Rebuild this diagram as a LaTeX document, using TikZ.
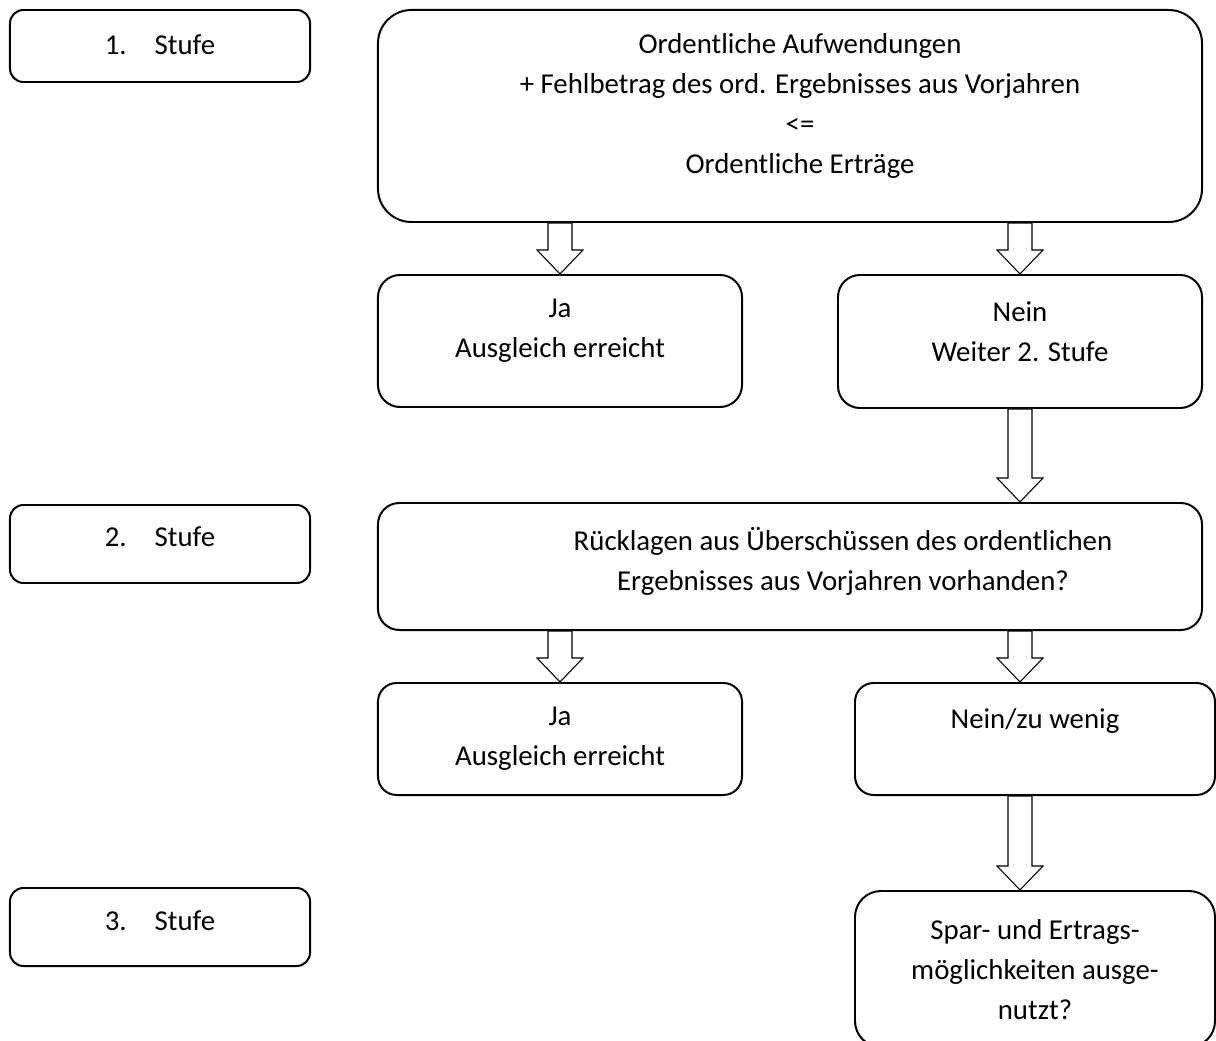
\documentclass[tikz,border=0pt]{standalone}
\usepackage{fontspec}
\setmainfont{Carlito}
\usetikzlibrary{positioning,calc}

\newcommand{\blockpfeil}[2]{%
  \draw[pfeil] let \p1=(#1), \p2=(#2) in
    (\x2-0.18cm,\y1) -- (\x2-0.18cm,\y2+0.36cm) -- (\x2-0.345cm,\y2+0.36cm)
    -- (\x2,\y2) -- (\x2+0.345cm,\y2+0.36cm) -- (\x2+0.18cm,\y2+0.36cm)
    -- (\x2+0.18cm,\y1) -- cycle;}

\begin{document}
\begin{tikzpicture}[x=0.015cm,y=-0.015cm,
  kasten/.style={draw=black,line width=0.85pt,inner sep=0pt},
  txt/.style={align=center,inner sep=0pt,font=\fontsize{12.3}{17.07}\selectfont},
  pfeil/.style={draw=black,fill=white,line width=0.45pt,line join=miter}]
\useasboundingbox (0,0) rectangle (1216,1041);
\node [kasten,rounded corners=0.2cm,minimum width=4.5cm,minimum height=1.08cm] (stufe1) at (160,46) {};
\node [txt] (stufe1t) at (160,45) {1.\hspace{0.42cm}Stufe};
\node [kasten,rounded corners=0.2cm,minimum width=4.5cm,minimum height=1.17cm] (stufe2) at (160,544) {};
\node [txt] (stufe2t) at (160,537) {2.\hspace{0.42cm}Stufe};
\node [kasten,rounded corners=0.2cm,minimum width=4.5cm,minimum height=1.17cm] (stufe3) at (160,927) {};
\node [txt] (stufe3t) at (160,921) {3.\hspace{0.42cm}Stufe};
\node [kasten,rounded corners=0.5cm,minimum width=12.36cm,minimum height=3.18cm] (pruef1) at (790,116) {};
\node [txt] (pruef1t) at (800,106) {Ordentliche Aufwendungen\\+ Fehlbetrag des ord. Ergebnisses aus Vorjahren\\<=\\Ordentliche Erträge};
\node [kasten,rounded corners=0.33cm,minimum width=5.46cm,minimum height=1.98cm] (ja1) at (560,341) {};
\node [txt] (ja1t) at (560,331) {Ja\\Ausgleich erreicht};
\node [kasten,rounded corners=0.33cm,minimum width=5.46cm,minimum height=1.995cm] (nein1) at (1020,341.5) {};
\node [txt] (nein1t) at (1020,332) {Nein\\Weiter 2. Stufe};
\node [kasten,rounded corners=0.32cm,minimum width=12.36cm,minimum height=1.905cm] (pruef2) at (790,566.5) {};
\node [txt] (pruef2t) at (843,561) {Rücklagen aus Überschüssen des ordentlichen\\Ergebnisses aus Vorjahren vorhanden?};
\node [kasten,rounded corners=0.28cm,minimum width=5.46cm,minimum height=1.68cm] (ja2) at (560,739) {};
\node [txt] (ja2t) at (560,739) {Ja\\Ausgleich erreicht};
\node [kasten,rounded corners=0.28cm,minimum width=5.4cm,minimum height=1.68cm] (nein2) at (1035,739) {};
\node [txt] (nein2t) at (1035,721) {Nein/zu wenig};
\node [kasten,rounded corners=0.39cm,minimum width=5.4cm,minimum height=2.34cm] (ende) at (1035,969) {};
\node [txt] (endet) at (1035,970) {Spar- und Ertrags-\\möglichkeiten ausge-\\nutzt?};
\blockpfeil{pruef1.south}{ja1.north}
\blockpfeil{pruef1.south}{nein1.north}
\blockpfeil{nein1.south}{nein1.south |- pruef2.north}
\blockpfeil{pruef2.south}{ja2.north}
\blockpfeil{pruef2.south}{nein1.south |- nein2.north}
\blockpfeil{nein2.south}{nein1.south |- ende.north}
\end{tikzpicture}
\end{document}
